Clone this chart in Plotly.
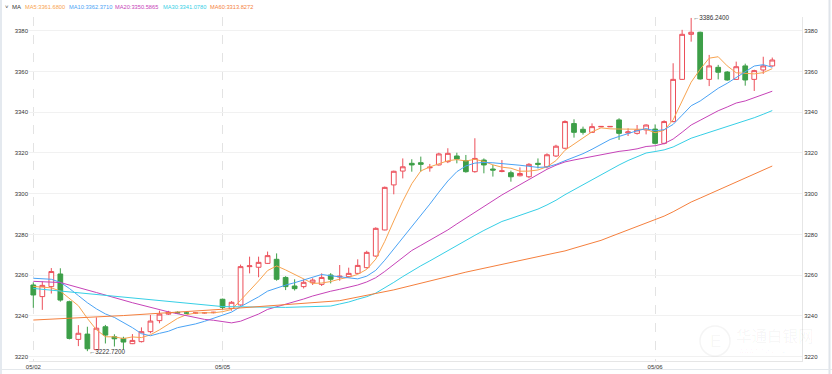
import plotly.graph_objects as go

# ---------------- data ----------------
opens = [3255.2, 3249.5, 3254.4, 3260.6, 3247.0, 3228.5, 3231.1, 3223.5, 3234.7, 3229.8,
         3229.0, 3226.4, 3227.4, 3232.3, 3237.7, 3240.9, 3241.8, 3241.5, 3241.4, 3241.5,
         3241.6, 3248.2, 3243.7, 3245.4, 3264.2, 3263.9, 3265.8, 3267.8, 3258.9, 3254.7,
         3254.4, 3256.3, 3255.5, 3260.1, 3259.1, 3259.3, 3260.9, 3263.7, 3269.4, 3282.2,
         3304.3, 3311.1, 3314.9, 3315.2, 3312.7, 3314.1, 3315.7, 3318.5, 3316.2, 3310.8,
         3316.5, 3312.1, 3310.9, 3310.3, 3308.8, 3308.3, 3314.9, 3313.2, 3318.5, 3322.3,
         3334.4, 3331.6, 3330.1, 3332.8, 3332.8, 3336.2, 3329.8, 3329.6, 3331.3, 3331.7,
         3324.7, 3335.4, 3356.1, 3378.2, 3379.2, 3356.1, 3362.0, 3359.7, 3356.1, 3362.7,
         3356.1, 3360.7, 3362.7]
highs = [3256.5, 3257.0, 3263.5, 3263.4, 3247.5, 3235.5, 3234.7, 3239.3, 3235.6, 3231.0,
         3229.8, 3231.1, 3234.4, 3240.5, 3242.6, 3242.5, 3242.2, 3241.9, 3241.8, 3241.9,
         3242.0, 3248.5, 3247.3, 3265.2, 3269.1, 3269.1, 3271.6, 3270.7, 3259.5, 3258.0,
         3258.0, 3258.5, 3260.9, 3261.0, 3265.0, 3263.7, 3267.8, 3272.0, 3283.5, 3303.5,
         3311.3, 3317.3, 3316.9, 3318.2, 3314.6, 3320.1, 3322.3, 3320.1, 3319.0, 3327.2,
         3317.3, 3314.1, 3316.5, 3311.3, 3312.9, 3315.0, 3317.3, 3319.8, 3324.0, 3336.0,
         3336.5, 3332.9, 3334.5, 3333.2, 3333.2, 3337.0, 3332.1, 3333.7, 3334.0, 3334.0,
         3336.0, 3364.0, 3380.4, 3386.24, 3379.5, 3368.1, 3363.2, 3360.2, 3364.8, 3363.8,
         3360.8, 3367.2, 3366.8]
lows = [3244.0, 3243.0, 3251.0, 3247.0, 3228.5, 3225.2, 3222.72, 3223.2, 3226.5, 3225.0,
        3223.6, 3226.2, 3227.0, 3231.5, 3236.4, 3240.5, 3241.2, 3241.1, 3241.0, 3241.2,
        3241.3, 3243.2, 3242.6, 3245.0, 3260.9, 3259.0, 3265.5, 3257.3, 3252.7, 3252.5,
        3253.5, 3255.2, 3254.7, 3256.0, 3257.3, 3258.9, 3260.6, 3263.3, 3269.0, 3282.0,
        3299.7, 3307.5, 3310.8, 3310.8, 3310.8, 3313.8, 3315.0, 3314.9, 3310.3, 3310.3,
        3310.0, 3308.4, 3310.5, 3305.9, 3308.5, 3307.6, 3312.4, 3312.4, 3318.0, 3321.8,
        3327.5, 3329.0, 3329.8, 3332.7, 3332.7, 3326.4, 3328.3, 3329.0, 3329.1, 3324.2,
        3324.2, 3335.0, 3355.8, 3374.6, 3356.0, 3352.8, 3356.1, 3355.4, 3355.8, 3353.0,
        3350.4, 3358.8, 3362.3]
closes = [3250.3, 3255.0, 3261.8, 3247.8, 3229.0, 3231.5, 3223.9, 3234.0, 3230.6, 3228.8,
          3227.2, 3228.0, 3232.3, 3237.5, 3240.9, 3241.8, 3241.5, 3241.4, 3241.5, 3241.6,
          3241.8, 3244.2, 3246.7, 3264.2, 3264.6, 3266.3, 3269.6, 3258.0, 3254.4, 3253.4,
          3256.5, 3257.6, 3258.9, 3258.0, 3259.5, 3260.9, 3264.8, 3271.2, 3283.0, 3303.1,
          3311.0, 3313.2, 3314.1, 3314.4, 3313.0, 3319.5, 3319.8, 3317.0, 3310.8, 3317.3,
          3314.1, 3311.6, 3311.2, 3308.3, 3309.9, 3314.4, 3314.4, 3319.1, 3323.3, 3335.4,
          3330.1, 3330.1, 3332.9, 3333.0, 3333.0, 3329.6, 3330.3, 3331.3, 3333.7, 3324.7,
          3335.4, 3356.1, 3378.2, 3379.2, 3356.3, 3362.7, 3359.6, 3355.8, 3362.3, 3355.8,
          3360.4, 3362.7, 3365.6]

# x tick labels (day starts) and their candle positions
day_labels = ["05/02", "05/05", "05/06"]
day_pos = [0, 21, 69]

ma5_head_idx, ma5_head_val = [0, 1, 2, 3], [3254.5, 3254.2, 3253.8, 3252.2]
ma10_head_idx = [0, 1, 2, 3, 4, 5, 6, 7, 8]
ma10_head_val = [3258.5, 3258.4, 3258.0, 3256.5, 3253.5, 3250.0, 3246.5, 3243.5, 3241.0]
ma20_head_idx = [0, 3, 7, 11, 15, 18]
ma20_head_val = [3257.0, 3256.4, 3251.5, 3246.5, 3242.0, 3239.0]
ma30_head_idx = [0, 7, 14, 21, 28]
ma30_head_val = [3253.5, 3250.6, 3247.6, 3244.6, 3244.2]
ma60_head_idx = [0, 10, 21, 28, 34, 40, 48, 58]
ma60_head_val = [3238.0, 3240.2, 3243.3, 3245.5, 3247.5, 3252.8, 3261.5, 3271.0]

legend_names = ["MA5", "MA10", "MA20", "MA30", "MA60"]
legend_values = ["3361.6800", "3362.3710", "3350.5865", "3341.0780", "3313.8272"]

high_label = "3386.2400"
low_label = "3222.7200"

y_ticks = [3220, 3240, 3260, 3280, 3300, 3320, 3340, 3360, 3380]

watermark_title = "华通白银网"
watermark_url = "www.thbaiyin.com"

# ---------------- styling ----------------
UP = "#ec4f5a"
DOWN = "#3d9f48"
MA_COLORS = ["#f8a34f", "#4aa3f5", "#c643b8", "#36cfe6", "#f57f3d"]
FONT = "Liberation Sans, Arial, sans-serif"
WM = "rgba(0,0,0,0.045)"

n = len(closes)
xs = list(range(n))


def sma(vals, w):
    return [sum(vals[i - w + 1:i + 1]) / w for i in range(w - 1, len(vals))]


heads = [(ma5_head_idx, ma5_head_val), (ma10_head_idx, ma10_head_val),
         (ma20_head_idx, ma20_head_val), (ma30_head_idx, ma30_head_val),
         (ma60_head_idx, ma60_head_val)]
windows = [5, 10, 20, 30, 60]

fig = go.Figure()
fig.add_trace(go.Candlestick(
    x=xs, open=opens, high=highs, low=lows, close=closes,
    increasing=dict(line=dict(color=UP, width=1), fillcolor="#ffffff"),
    decreasing=dict(line=dict(color=DOWN, width=1), fillcolor=DOWN),
    whiskerwidth=0, showlegend=False, hoverinfo="skip"))

for (hi, hv), w, col in zip(heads, windows, MA_COLORS):
    comp = sma(closes, w)
    mx = list(hi) + list(range(w - 1, n))
    my = list(hv) + comp
    fig.add_trace(go.Scatter(x=mx, y=my, mode="lines",
                             line=dict(color=col, width=1),
                             showlegend=False, hoverinfo="skip"))

# carrier trace for the right-hand axis (transparent markers)
fig.add_trace(go.Scatter(x=xs, y=closes, yaxis="y2", mode="markers",
                         marker=dict(size=1, opacity=0),
                         showlegend=False, hoverinfo="skip"))

L, R, T, B = 29, 802, 17, 361
W, H = 832, 374
yr = [3217.9, 3386.7]
xr = [-0.477, 85.3]

fig.update_layout(
    width=W, height=H,
    margin=dict(l=L, r=W - R, t=T, b=H - B, pad=0),
    paper_bgcolor="white", plot_bgcolor="white",
    boxgap=0.25,
    font=dict(family=FONT, size=6, color="#333333"),
    xaxis=dict(range=xr, tickmode="array", tickvals=day_pos, ticktext=day_labels,
               showgrid=True, gridcolor="#e3e3e3", griddash="dash", gridwidth=1,
               zeroline=False, showline=True, linecolor="#e6e6e6", linewidth=1,
               ticks="", tickfont=dict(size=6, color="#333333"),
               rangeslider=dict(visible=False), fixedrange=True, automargin=False),
    yaxis=dict(range=yr, tickmode="array", tickvals=y_ticks,
               tickformat="d", showgrid=True, gridcolor="#f1f1f1", gridwidth=1,
               zeroline=False, showline=False, ticks="", automargin=False,
               tickfont=dict(size=6, color="#333333"), side="left"),
    yaxis2=dict(range=yr, tickmode="array", tickvals=y_ticks, tickformat="d",
                overlaying="y", side="right", showgrid=False, zeroline=False,
                showline=True, linecolor="#e6e6e6", ticks="", automargin=False,
                tickfont=dict(size=6, color="#333333")),
)


def px_to_paper_x(px):
    return (px - L) / (R - L)


def py_to_paper_y(py):
    return (B - py) / (B - T)


ann = []
ann.append(dict(x=px_to_paper_x(2.5), y=py_to_paper_y(6.5), xref="paper", yref="paper",
                text="˅", showarrow=False, xanchor="left", yanchor="middle",
                font=dict(size=6, color="#333333")))
ann.append(dict(x=px_to_paper_x(10), y=py_to_paper_y(6.5), xref="paper", yref="paper",
                text="MA", showarrow=False, xanchor="left", yanchor="middle",
                font=dict(size=6, color="#333333")))
leg_x = [22.7, 66.7, 113.3, 161, 207.7]
for name, val, col, lx in zip(legend_names, legend_values, MA_COLORS, leg_x):
    ann.append(dict(x=px_to_paper_x(lx), y=py_to_paper_y(6.5), xref="paper", yref="paper",
                    text=f"{name}:{val}", showarrow=False, xanchor="left", yanchor="middle",
                    font=dict(size=5.7, color=col)))

hi_i = highs.index(max(highs))
lo_i = lows.index(min(lows))
ann.append(dict(x=hi_i, y=highs[hi_i], xref="x", yref="y", text="←" + high_label,
                showarrow=False, xanchor="left", yanchor="middle",
                font=dict(size=6.3, color="#333333")))
ann.append(dict(x=lo_i, y=lows[lo_i], xref="x", yref="y", text="←" + low_label,
                showarrow=False, xanchor="left", yanchor="middle",
                font=dict(size=6.3, color="#333333")))

# faint watermark (bottom right)
ann.append(dict(x=px_to_paper_x(734), y=py_to_paper_y(335), xref="paper", yref="paper",
                text=watermark_title, showarrow=False, xanchor="left", yanchor="middle",
                font=dict(size=15.5, color=WM, family="Noto Sans CJK SC")))
ann.append(dict(x=px_to_paper_x(736), y=py_to_paper_y(350.5), xref="paper", yref="paper",
                text=watermark_url, showarrow=False, xanchor="left", yanchor="middle",
                font=dict(size=7, color=WM)))
ann.append(dict(x=px_to_paper_x(715), y=py_to_paper_y(341), xref="paper", yref="paper",
                text="E", showarrow=False, xanchor="center", yanchor="middle",
                font=dict(size=17, color=WM)))
fig.update_layout(annotations=ann)

shapes = [
    # watermark logo ring
    dict(type="circle", xref="paper", yref="paper",
         x0=px_to_paper_x(700), x1=px_to_paper_x(730),
         y0=py_to_paper_y(356), y1=py_to_paper_y(326),
         line=dict(color=WM, width=1.5)),
    # frame lines around the widget
    dict(type="line", xref="paper", yref="paper", x0=px_to_paper_x(1), x1=px_to_paper_x(1),
         y0=py_to_paper_y(0), y1=py_to_paper_y(374), line=dict(color="#e4e9ef", width=2)),
    dict(type="line", xref="paper", yref="paper", x0=px_to_paper_x(829.5), x1=px_to_paper_x(829.5),
         y0=py_to_paper_y(0), y1=py_to_paper_y(374), line=dict(color="#dfe4ea", width=2)),
    dict(type="line", xref="paper", yref="paper", x0=px_to_paper_x(0), x1=px_to_paper_x(832),
         y0=py_to_paper_y(369.5), y1=py_to_paper_y(369.5), line=dict(color="#e4e8ec", width=1)),
]
fig.update_layout(shapes=shapes)

fig.write_html("out.html", config={"displayModeBar": False},
               post_script="document.body.style.margin='0';")
